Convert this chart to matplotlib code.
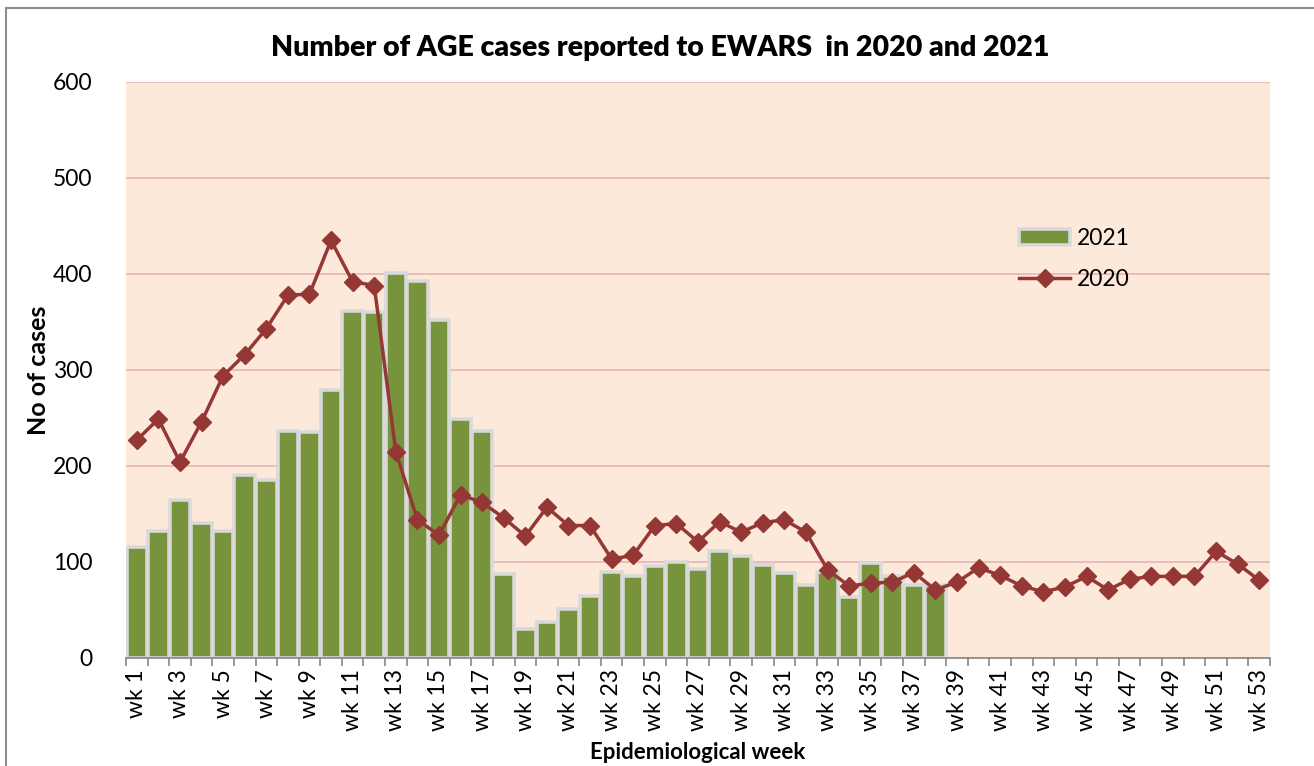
import matplotlib.pyplot as plt
import matplotlib.patches as mpatches
import numpy as np

weeks = [f"wk {i}" for i in range(1, 54)]

cases_2021 = [116, 132, 165, 141, 132, 191, 185, 236, 235, 279,
              361, 360, 401, 393, 352, 249, 236, 88, 30, 37,
              51, 65, 90, 85, 96, 100, 93, 111, 106, 97,
              89, 76, 90, 64, 99, 85, 76, 76]

cases_2020 = [227, 249, 204, 246, 294, 316, 343, 378, 379, 435,
              392, 388, 215, 144, 128, 170, 162, 146, 127, 157,
              138, 138, 103, 107, 138, 140, 121, 142, 131, 141,
              144, 131, 92, 75, 78, 79, 89, 71, 79, 94,
              86, 75, 69, 74, 85, 71, 82, 85, 85, 85,
              111, 98, 81]

plt.rcParams['font.family'] = ['Lato', 'DejaVu Sans']

fig = plt.figure(figsize=(13.14, 7.66), dpi=100)
W, H = 1314, 766
ax = fig.add_axes([126 / W, 1 - 658 / H, (1270 - 126) / W, (658 - 82) / H])

# outer chart border
fig.patches.append(mpatches.Rectangle((6 / W, -0.05), 1.1, 1 - 8 / H + 0.05,
                                      transform=fig.transFigure, fill=False,
                                      edgecolor='#8c8c8c', linewidth=1.5))

ax.set_facecolor('#FDE9D9')
x = np.arange(1, 54)

bars = ax.bar(x[:len(cases_2021)], cases_2021, width=0.95, color='#77933C',
              edgecolor='#D9D9D9', linewidth=2.6, label='2021', zorder=2)
line, = ax.plot(x, cases_2020, color='#953735', linewidth=2.5, marker='D',
                markersize=9, label='2020', zorder=3)

ax.set_xlim(0.5, 53.5)
ax.set_ylim(0, 600)
ax.set_yticks(range(0, 601, 100))
ax.yaxis.grid(True, color='#E6B9B8', linewidth=1.3, zorder=0)
ax.set_axisbelow(True)

ax.set_xticks(np.arange(0.5, 54, 1))
ax.set_xticklabels([])
ax.set_xticks(x[::2], minor=True)
ax.set_xticklabels(weeks[::2], minor=True, rotation=90, fontsize=16.5)
ax.tick_params(axis='x', which='major', length=6, color='#868686', width=1.2,
               direction='out')
ax.tick_params(axis='x', which='minor', length=0, pad=8)
ax.tick_params(axis='y', length=0, labelsize=16.5, pad=24)

for s in ['left', 'right', 'top']:
    ax.spines[s].set_visible(False)
ax.spines['bottom'].set_color('#868686')
ax.spines['bottom'].set_linewidth(1.2)

ax.set_ylabel('No of cases', fontsize=18, fontweight='bold', labelpad=2)
ax.set_xlabel('Epidemiological week', fontsize=16, fontweight='bold', labelpad=8)
fig.text(660 / W, 1 - 48 / H, 'Number of AGE cases reported to EWARS  in 2020 and 2021',
         ha='center', va='center', fontsize=20.5, fontweight='heavy')

ax.legend([bars, line], ['2021', '2020'], loc='upper left',
          bbox_to_anchor=(0.763, 0.783), frameon=False,
          fontsize=16.5, handlelength=2.2, labelspacing=0.9, handletextpad=0.3)

fig.savefig('out.png', dpi=100)
